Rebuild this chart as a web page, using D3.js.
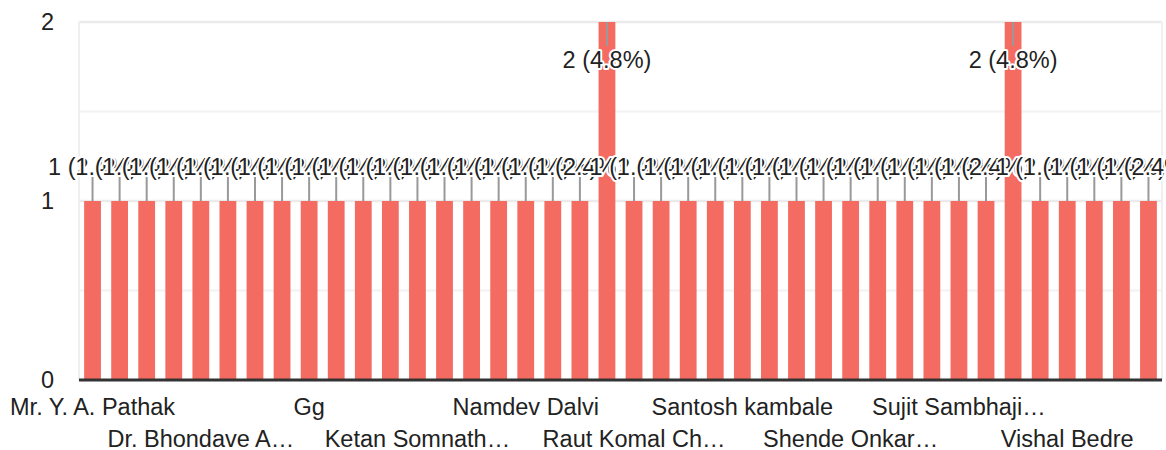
<!DOCTYPE html>
<html>
<head>
<meta charset="utf-8">
<script src="https://cdn.jsdelivr.net/npm/d3@7"></script>
<style>
  html, body { margin: 0; padding: 0; background: #fff; }
  svg { display: block; font-family: "Liberation Sans", Arial, sans-serif; }
</style>
</head>
<body>
<svg id="chart" width="1166" height="450"></svg>
<script>
// ---- data ----
const categories = [
  "Mr. Y. A. Pathak", "Aarti Patil", "Abhijit Pawar", "Amol Jadhav",
  "Dr. Bhondave A…", "Ganesh More", "Gaurav Shinde", "Gayatri Kale",
  "Gg", "Harshal Mane", "Jayesh Bhosale", "Kalpana Gaikwad",
  "Ketan Somnath…", "Kiran Deshmukh", "Mahesh Kadam", "Manisha Salunkhe",
  "Namdev Dalvi", "Nikhil Pawar", "Pooja Chavan", "Prashant Shinde",
  "Raut Komal Ch…", "Rohit Jagtap", "Sachin Nikam", "Sandip Kale",
  "Santosh kambale", "Sarika Bhor", "Shailesh Gore", "Shekhar Patil",
  "Shende Onkar…", "Shivaji Mali", "Sneha Thorat", "Sudhir Wagh",
  "Sujit Sambhaji…", "Sunil Kamble", "Swapnil Jadhav", "Tushar Dhage",
  "Vishal Bedre", "Vaibhav Lokhande", "Yogesh Sawant", "Yuvraj Shelar"
];
const counts = [
  1, 1, 1, 1, 1, 1, 1, 1, 1, 1,
  1, 1, 1, 1, 1, 1, 1, 1, 1, 2,
  1, 1, 1, 1, 1, 1, 1, 1, 1, 1,
  1, 1, 1, 1, 2, 1, 1, 1, 1, 1
];
const yTicks = [0, 1, 2];
const gridValues = [0.5, 1, 1.5, 2];
const labelEvery = 4;

// ---- layout ----
const W = 1166, H = 450;
const pLeft = 79, pRight = 1162, pTop = 22, pBottom = 380;
const FS = 23.5;
const total = d3.sum(counts);
const rows = categories.map((c, i) => ({ c, v: counts[i], i }));

const svg = d3.select("#chart");
const x = d3.scaleBand().domain(categories).range([pLeft, pRight])
  .paddingInner(0.38).paddingOuter(0.19);
const y = d3.scaleLinear().domain([0, d3.max(yTicks)]).range([pBottom, pTop]);

// gridlines
svg.append("g").selectAll("line").data(gridValues).join("line")
  .attr("x1", pLeft).attr("x2", pRight)
  .attr("y1", d => y(d)).attr("y2", d => y(d))
  .attr("stroke", d => Number.isInteger(d) ? "#ebebeb" : "#f4f4f4")
  .attr("stroke-width", 2.5);
// side borders
svg.append("g").selectAll("line").data([pLeft, pRight]).join("line")
  .attr("x1", d => d).attr("x2", d => d)
  .attr("y1", pTop).attr("y2", pBottom)
  .attr("stroke", "#efefef").attr("stroke-width", 2);

// y axis labels
const yAxis = d3.axisLeft(y).tickValues(yTicks).tickSize(0).tickPadding(0).tickFormat(d3.format("d"));
const yg = svg.append("g").attr("transform", `translate(${pLeft - 25},0)`).call(yAxis);
yg.select(".domain").remove();
yg.selectAll("text").attr("font-size", FS).attr("fill", "#222")
  .attr("font-family", "'Liberation Sans', Arial, sans-serif");

// bars
svg.append("g").selectAll("rect").data(rows).join("rect")
  .attr("x", d => x(d.c)).attr("width", x.bandwidth())
  .attr("y", d => y(d.v)).attr("height", d => y(0) - y(d.v))
  .attr("fill", "#f46b62");

// baseline
svg.append("line").attr("x1", pLeft).attr("x2", pRight)
  .attr("y1", pBottom).attr("y2", pBottom)
  .attr("stroke", "#333").attr("stroke-width", 3);

// x axis labels (every 4th, staggered in two rows)
const xAxis = d3.axisBottom(x).tickSize(0).tickPadding(0)
  .tickValues(categories.filter((c, i) => i % labelEvery === 0));
const xg = svg.append("g").attr("transform", `translate(0,${pBottom})`).call(xAxis);
xg.select(".domain").remove();
xg.selectAll("text")
  .attr("font-size", FS).attr("fill", "#222")
  .attr("font-family", "'Liberation Sans', Arial, sans-serif")
  .attr("dy", null)
  .attr("y", (d) => (categories.indexOf(d) / labelEvery) % 2 === 0 ? 35 : 67);

// annotations
const ann = svg.append("g");
rows.forEach(d => {
  const cx = x(d.c) + x.bandwidth() / 2;
  const yt = y(d.v);
  const inside = yt - 50 < 0;
  const s1 = yt, s2 = inside ? yt + 24 : yt - 24;
  ann.append("line").attr("x1", cx).attr("x2", cx).attr("y1", s1).attr("y2", s2)
    .attr("stroke", "#999").attr("stroke-width", 2);
  ann.append("text").attr("x", cx).attr("y", inside ? yt + 46 : yt - 26)
    .attr("text-anchor", "middle")
    .attr("font-size", FS).attr("fill", "#222")
    .attr("stroke", "#fff").attr("stroke-width", 4).attr("paint-order", "stroke")
    .attr("stroke-linejoin", "round")
    .text(`${d.v} (${(d.v / total * 100).toFixed(1)}%)`);
});
</script>
</body>
</html>
